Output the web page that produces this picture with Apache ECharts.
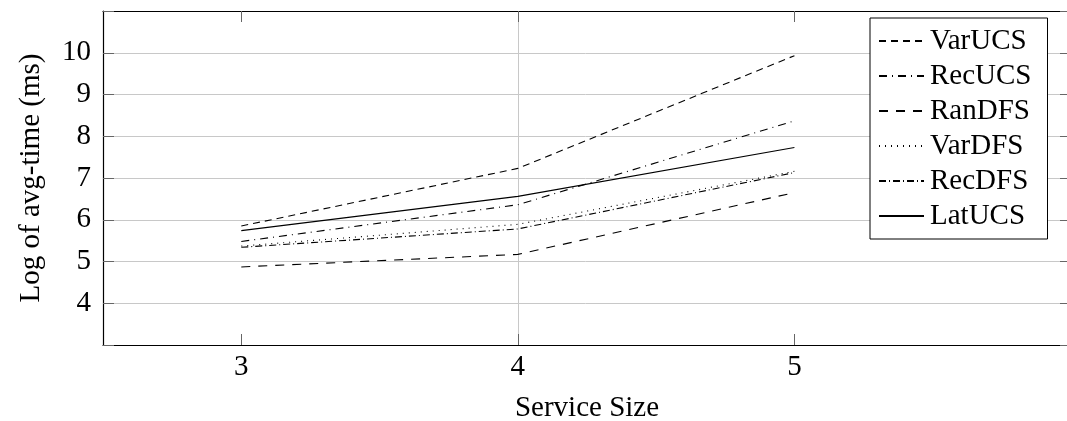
<!DOCTYPE html>
<html>
<head>
<meta charset="utf-8">
<script src="https://cdn.jsdelivr.net/npm/echarts@6/dist/echarts.min.js"></script>
<style>
  html, body { margin: 0; padding: 0; background: #fff; }
  #chart { width: 1067px; height: 421px; }
</style>
</head>
<body>
<div id="chart"></div>
<script>
// Service sizes on the x axis
const serviceSizes = [3, 4, 5];

// Log of average time (ms) for each algorithm
const varUCS = [5.85, 7.23, 9.93];
const recUCS = [5.48, 6.36, 8.37];
const ranDFS = [4.87, 5.17, 6.65];
const varDFS = [5.37, 5.89, 7.16];
const recDFS = [5.34, 5.78, 7.13];
const latUCS = [5.74, 6.56, 7.73];

const seriesNames = ['VarUCS', 'RecUCS', 'RanDFS', 'VarDFS', 'RecDFS', 'LatUCS'];
const seriesValues = [varUCS, recUCS, ranDFS, varDFS, recDFS, latUCS];

// dash patterns per series (densely dashed, dash-dot, dashed, dotted, dense dash-dot, solid)
const dashStyles = [[7, 5], [8, 5, 1, 5], [9, 8], [1, 5], [7, 3, 1, 3], 'solid'];

const xTickValues = [3, 4, 5];
const FONT = '"Liberation Serif", "DejaVu Serif", serif';
const FS = 29;

const chart = echarts.init(document.getElementById('chart'), null, { renderer: 'canvas' });

const series = seriesNames.map((name, i) => ({
  name: name,
  type: 'line',
  symbol: 'none',
  xAxisIndex: 0,
  yAxisIndex: 0,
  data: serviceSizes.map((x, j) => [x, seriesValues[i][j]]),
  lineStyle: { color: '#000', width: 1.1, type: dashStyles[i] },
  itemStyle: { color: '#000' },
  emphasis: { disabled: true },
  z: 5
}));

chart.setOption({
  animation: false,
  backgroundColor: '#fff',
  textStyle: { fontFamily: FONT },
  grid: { left: 103, top: 11, right: -4, bottom: 76, containLabel: false, outerBoundsMode: 'none' },
  legend: {
    data: seriesNames,
    orient: 'vertical',
    left: 870,
    top: 18,
    padding: [8, 16, 8, 8],
    itemGap: 5,
    itemWidth: 45,
    itemHeight: 20,
    backgroundColor: '#fff',
    borderColor: '#000',
    borderWidth: 1,
    borderRadius: 0,
    align: 'left',
    itemStyle: { color: 'rgba(0,0,0,0)', borderWidth: 0, opacity: 0 },
    textStyle: { fontFamily: FONT, fontSize: FS, color: '#000', lineHeight: 30, padding: [0, 0, 0, 1] },
    selectedMode: false,
    z: 10
  },
  xAxis: [
    {
      type: 'value',
      min: 2.5,
      max: 6,
      interval: 0.5,
      position: 'bottom',
      name: 'Service Size',
      nameLocation: 'middle',
      nameGap: 49,
      nameTextStyle: { fontFamily: FONT, fontSize: FS, color: '#000' },
      axisLine: { show: true, onZero: false, lineStyle: { color: '#000', width: 1.2 } },
      axisTick: { show: true, inside: true, length: 11, customValues: xTickValues, lineStyle: { color: '#666', width: 1 } },
      axisLabel: { show: true, customValues: xTickValues, margin: 8, fontFamily: FONT, fontSize: FS, color: '#000' },
      splitLine: { show: true, lineStyle: { color: ['rgba(0,0,0,0)', '#c8c8c8'], width: 1 } }
    },
    {
      type: 'value',
      min: 2.5,
      max: 6,
      interval: 0.5,
      position: 'top',
      axisLine: { show: true, onZero: false, lineStyle: { color: '#000', width: 1.2 } },
      axisTick: { show: true, inside: true, length: 11, customValues: xTickValues, lineStyle: { color: '#666', width: 1 } },
      axisLabel: { show: false },
      splitLine: { show: false }
    }
  ],
  yAxis: [
    {
      type: 'value',
      min: 3,
      max: 11,
      interval: 1,
      position: 'left',
      name: 'Log of avg-time (ms)',
      nameLocation: 'middle',
      nameGap: 57,
      nameTextStyle: { fontFamily: FONT, fontSize: FS, color: '#000' },
      axisLine: { show: true, onZero: false, lineStyle: { color: '#000', width: 1.2 } },
      axisTick: { show: true, inside: true, length: 11, lineStyle: { color: '#666', width: 1 } },
      axisLabel: {
        show: true,
        margin: 12,
        fontFamily: FONT,
        fontSize: FS,
        color: '#000',
        formatter: v => (v >= 4 && v <= 10 ? String(v) : '')
      },
      splitLine: { show: true, lineStyle: { color: '#c8c8c8', width: 1 } }
    },
    {
      type: 'value',
      min: 3,
      max: 11,
      interval: 1,
      position: 'right',
      axisLine: { show: true, onZero: false, lineStyle: { color: '#000', width: 1.2 } },
      axisTick: { show: true, inside: true, length: 11, lineStyle: { color: '#666', width: 1 } },
      axisLabel: { show: false },
      splitLine: { show: false }
    }
  ],
  series: series
});
</script>
</body>
</html>
